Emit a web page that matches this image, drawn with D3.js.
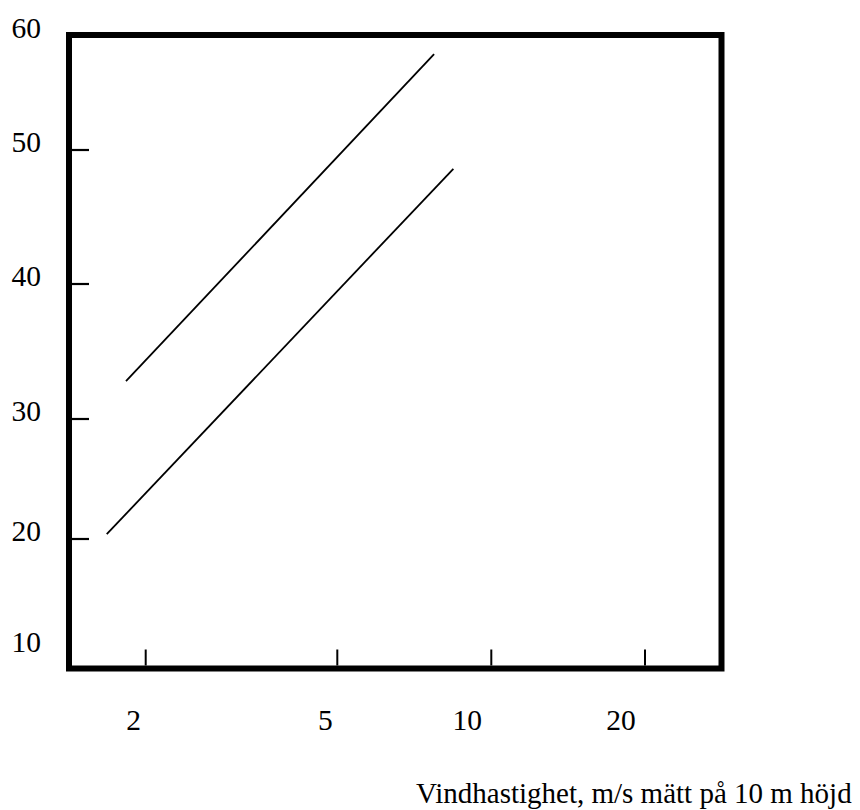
<!DOCTYPE html>
<html>
<head>
<meta charset="utf-8">
<script src="https://cdn.jsdelivr.net/npm/d3@7"></script>
<style>
  body { margin: 0; background: #fff; }
  svg text { font-family: 'Liberation Serif', 'Times New Roman', serif; fill: #000; }
</style>
</head>
<body>
<svg id="chart" width="860" height="810"></svg>
<script>
//-------------------------------
// Data
var xTickValues = [2, 5, 10, 20];
var yTickLabels = [10, 20, 30, 40, 50, 60];
var yTickMarks = [20, 30, 40, 50];

// wind speed (m/s) at both ends of each line
var upperLineX = [1.82, 7.73];
var upperLineY = [32.8, 58.4];
var lowerLineX = [1.66, 8.43];
var lowerLineY = [20.4, 48.6];

var xTitle = 'Vindhastighet, m/s mätt på 10 m höjd';

//-------------------------------
var svg = d3.select('#chart');

var frame = { left: 69, top: 35, right: 721.5, bottom: 668.5 };

// the drawing is hand made: the axes are not evenly spaced,
// so piecewise scales follow the tick marks of the original
var x = d3.scaleLog()
  .domain(xTickValues)
  .range([145.7, 337.3, 491.3, 645]);

var y = d3.scaleLinear()
  .domain(yTickLabels)
  .range([650, 539, 419, 284, 150, 36]);

var lines = [
  { name: 'upper', values: upperLineX.map(function (d, i) { return { x: d, y: upperLineY[i] }; }) },
  { name: 'lower', values: lowerLineX.map(function (d, i) { return { x: d, y: lowerLineY[i] }; }) }
];

var line = d3.line()
  .x(function (d) { return x(d.x); })
  .y(function (d) { return y(d.y); });

svg.selectAll('.line')
  .data(lines)
  .enter()
  .append('path')
  .attr('class', 'line')
  .attr('d', function (d) { return line(d.values); })
  .attr('fill', 'none')
  .attr('stroke', '#000')
  .attr('stroke-width', 1.8);

// y tick marks (inside the frame)
svg.selectAll('.ytick')
  .data(yTickMarks)
  .enter()
  .append('line')
  .attr('class', 'ytick')
  .attr('x1', frame.left + 3)
  .attr('x2', frame.left + 20)
  .attr('y1', function (d) { return y(d); })
  .attr('y2', function (d) { return y(d); })
  .attr('stroke', '#000')
  .attr('stroke-width', 2.2);

svg.selectAll('.ylabel')
  .data(yTickLabels)
  .enter()
  .append('text')
  .attr('class', 'ylabel')
  .attr('x', 41)
  .attr('y', function (d) { return y(d) + 2; })
  .attr('text-anchor', 'end')
  .style('font-size', '29.5px')
  .text(function (d) { return d; });

// x tick marks (inside the frame)
svg.selectAll('.xtick')
  .data(xTickValues)
  .enter()
  .append('line')
  .attr('class', 'xtick')
  .attr('x1', function (d) { return x(d); })
  .attr('x2', function (d) { return x(d); })
  .attr('y1', frame.bottom - 3)
  .attr('y2', frame.bottom - 19)
  .attr('stroke', '#000')
  .attr('stroke-width', 2);

svg.selectAll('.xlabel')
  .data(xTickValues)
  .enter()
  .append('text')
  .attr('class', 'xlabel')
  .attr('x', function (d) { return x(d) - 12 * String(d).length; })
  .attr('y', 730)
  .attr('text-anchor', 'middle')
  .style('font-size', '29.5px')
  .text(function (d) { return d; });

// heavy frame
svg.append('rect')
  .attr('x', frame.left)
  .attr('y', frame.top)
  .attr('width', frame.right - frame.left)
  .attr('height', frame.bottom - frame.top)
  .attr('fill', 'none')
  .attr('stroke', '#000')
  .attr('stroke-width', 6);

svg.append('text')
  .attr('x', 416)
  .attr('y', 803)
  .style('font-size', '29px')
  .text(xTitle);
</script>
</body>
</html>
